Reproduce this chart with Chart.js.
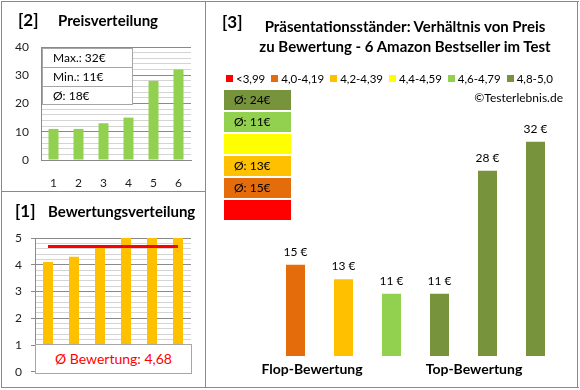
<!DOCTYPE html>
<html>
<head>
<meta charset="utf-8">
<script src="https://cdn.jsdelivr.net/npm/chart.js@4.4.1/dist/chart.umd.min.js"></script>
<style>
  body { margin: 0; width: 580px; height: 390px; position: relative; overflow: hidden; background: #fff;
         font-family: Lato, "Open Sans", sans-serif; color: #000; }
  .ln { position: absolute; background: #8a8a8a; }
  .t { position: absolute; white-space: nowrap; }
  .no { font-weight: bold; font-size: 17px; height: 20px; line-height: 20px; }
  .head { font-weight: bold; font-size: 15px; height: 20px; line-height: 20px; }
  .sub { font-weight: bold; font-size: 14px; height: 20px; line-height: 20px; }
  canvas { position: absolute; }
  .box { position: absolute; background: #fff; border: 1px solid #a6a6a6; box-sizing: border-box; }
  .row { height: 18px; line-height: 18px; font-size: 12px; padding-left: 10px; border-bottom: 1px solid #a6a6a6; }
  .row:last-child { border-bottom: none; }
  #legend { position: absolute; left: 226px; top: 70px; height: 16px; display: flex; align-items: center; font-size: 11.5px; }
  #legend span.sq { display: inline-block; width: 7px; height: 7px; margin-right: 3px; }
  #legend span.it { display: flex; align-items: center; margin-right: 6px; }
  #blocks { position: absolute; left: 224px; top: 90px; width: 67px; }
  #blocks div { height: 20px; line-height: 20px; margin-bottom: 2px; font-size: 12px; padding-left: 10px; }
</style>
</head>
<body>
<!-- frames -->
<div class="ln" style="left:1px;top:1px;width:578px;height:1px"></div>
<div class="ln" style="left:1px;top:387px;width:578px;height:1px"></div>
<div class="ln" style="left:1px;top:1px;width:1px;height:387px"></div>
<div class="ln" style="left:577px;top:1px;width:1px;height:387px"></div>
<div class="ln" style="left:205px;top:1px;width:1px;height:387px"></div>
<div class="ln" style="left:1px;top:191px;width:205px;height:1px"></div>

<canvas id="priceChart" width="203" height="189" style="left:2px;top:2px"></canvas>
<canvas id="ratingChart" width="203" height="195" style="left:2px;top:193px"></canvas>
<canvas id="compareChart" width="371" height="385" style="left:206px;top:2px"></canvas>

<div class="t no" style="left:18px;top:10px">[2]</div>
<div class="t head" style="left:58px;top:10px">Preisverteilung</div>
<div class="box" id="priceBox" style="left:42px;top:48px;width:91px;height:57px"></div>

<div class="t no" style="left:15px;top:201px">[1]</div>
<div class="t head" style="left:48px;top:201px">Bewertungsverteilung</div>
<div class="box" id="ratingBox" style="left:35px;top:344px;width:157px;height:30px;text-align:center;line-height:28px;color:#ff0000;font-size:14px"></div>

<div class="t no" style="left:222px;top:12px">[3]</div>
<div class="t head" style="left:205px;top:16px;width:400px;text-align:center">Präsentationsständer: Verhältnis von Preis<br>zu Bewertung - 6 Amazon Bestseller im Test</div>
<div id="legend"></div>
<div class="t" style="right:17px;top:90px;font-size:12px;line-height:16px">©Testerlebnis.de</div>
<div id="blocks"></div>
<div class="t sub" style="left:212px;top:359px;width:200px;text-align:center">Flop-Bewertung</div>
<div class="t sub" style="left:374px;top:359px;width:200px;text-align:center">Top-Bewertung</div>

<script>
const productNos = ['1', '2', '3', '4', '5', '6'];
const priceSorted = [11, 11, 13, 15, 28, 32];
const ratingSorted = [4.1, 4.3, 4.7, 5.0, 5.0, 5.0];

// right chart, ordered from flop to top rating
const barPrices = [15, 13, 11, 11, 28, 32];
const barRatings = [4.1, 4.3, 4.7, 5.0, 5.0, 5.0];

const bandLabels = ['<3,99', '4,0-4,19', '4,2-4,39', '4,4-4,59', '4,6-4,79', '4,8-5,0'];
const bandLimits = [4.0, 4.2, 4.4, 4.6, 4.8];
const bandColors = ['#ff0000', '#e46c0a', '#ffc000', '#ffff00', '#92d050', '#77933c'];

const FONT = 'Lato, "Open Sans", sans-serif';
const TICK = '#1e1e1e';

const bandOf = (r) => {
  let i = 0;
  while (i < bandLimits.length && r >= bandLimits[i] - 1e-9) i++;
  return i;
};
const avg = (arr) => arr.reduce((a, b) => a + b, 0) / arr.length;

// boxes and legend
const priceAvg = avg(priceSorted);
document.getElementById('priceBox').innerHTML =
  `<div class="row">Max.: ${Math.max(...priceSorted)}€</div>` +
  `<div class="row">Min.: ${Math.min(...priceSorted)}€</div>` +
  `<div class="row">Ø: ${Math.round(priceAvg)}€</div>`;

const ratingAvg = avg(ratingSorted);
document.getElementById('ratingBox').textContent =
  'Ø Bewertung: ' + ratingAvg.toFixed(2).replace('.', ',');

document.getElementById('legend').innerHTML = bandLabels.map((l, i) =>
  `<span class="it"><span class="sq" style="background:${bandColors[i]}"></span>${l}</span>`).join('');

const blocks = document.getElementById('blocks');
for (let b = bandLabels.length - 1; b >= 0; b--) {
  const inBand = barPrices.filter((p, i) => bandOf(barRatings[i]) === b);
  const d = document.createElement('div');
  d.style.background = bandColors[b];
  d.textContent = inBand.length ? `Ø: ${Math.round(avg(inBand))}€` : '';
  blocks.appendChild(d);
}

const isWhole = (v, step) => Math.abs(v / step - Math.round(v / step)) < 1e-6;

// [2] Preisverteilung
new Chart(document.getElementById('priceChart'), {
  type: 'bar',
  data: {
    labels: productNos,
    datasets: [{
      data: priceSorted,
      backgroundColor: '#92d050',
      barPercentage: 0.4,
      categoryPercentage: 1
    }]
  },
  options: {
    responsive: false,
    animation: false,
    devicePixelRatio: 1,
    layout: { padding: { left: 0, right: 14, top: 45, bottom: 0 } },
    plugins: { legend: { display: false }, tooltip: { enabled: false } },
    scales: {
      x: {
        grid: { display: false },
        border: { color: '#8a8a8a' },
        ticks: { color: TICK, font: { family: FONT, size: 12 }, padding: 8 },
        afterFit: (s) => { s.height = 31; }
      },
      y: {
        min: 0,
        max: 40,
        grid: {
          drawTicks: false,
          color: (c) => isWhole(c.tick.value, 10) ? '#8a8a8a' : '#d4d4d4'
        },
        border: { color: '#8a8a8a' },
        ticks: {
          stepSize: 2,
          autoSkip: false,
          padding: 12,
          color: TICK,
          font: { family: FONT, size: 12 },
          callback: (v) => isWhole(v, 10) ? v : ''
        },
        afterFit: (s) => { s.width = 39; }
      }
    }
  }
});

// [1] Bewertungsverteilung
new Chart(document.getElementById('ratingChart'), {
  data: {
    labels: productNos,
    datasets: [{
      type: 'line',
      data: ratingSorted.map(() => ratingAvg),
      borderColor: '#ff0000',
      borderWidth: 3,
      pointRadius: 0
    }, {
      type: 'bar',
      data: ratingSorted,
      backgroundColor: '#ffc000',
      barPercentage: 0.385,
      categoryPercentage: 1
    }]
  },
  options: {
    responsive: false,
    animation: false,
    devicePixelRatio: 1,
    layout: { padding: { left: 0, right: 14, top: 45, bottom: 15 } },
    plugins: { legend: { display: false }, tooltip: { enabled: false } },
    scales: {
      x: { display: false },
      y: {
        min: 0,
        max: 5,
        grid: {
          tickLength: 4,
          color: (c) => isWhole(c.tick.value, 1) ? '#8a8a8a' : '#d4d4d4',
          tickColor: (c) => isWhole(c.tick.value, 1) ? '#8a8a8a' : 'rgba(0,0,0,0)'
        },
        border: { color: '#8a8a8a' },
        ticks: {
          stepSize: 0.2,
          autoSkip: false,
          padding: 9,
          color: TICK,
          font: { family: FONT, size: 12 },
          callback: (v) => isWhole(v, 1) ? Math.round(v) : ''
        },
        afterFit: (s) => { s.width = 33; }
      }
    }
  }
});

// [3] Preis vs. Bewertung
const valueLabels = {
  id: 'valueLabels',
  afterDatasetsDraw(chart) {
    const { ctx } = chart;
    ctx.save();
    ctx.font = '12px ' + FONT;
    ctx.fillStyle = '#000';
    ctx.textAlign = 'center';
    ctx.textBaseline = 'middle';
    chart.getDatasetMeta(0).data.forEach((bar, i) => {
      ctx.fillText(barPrices[i] + ' €', bar.x, bar.y - 13);
    });
    ctx.restore();
  }
};

new Chart(document.getElementById('compareChart'), {
  type: 'bar',
  data: {
    labels: productNos,
    datasets: [{
      data: barPrices,
      backgroundColor: barRatings.map((r) => bandColors[bandOf(r)]),
      barPercentage: 0.396,
      categoryPercentage: 1
    }]
  },
  options: {
    responsive: false,
    animation: false,
    devicePixelRatio: 1,
    layout: { padding: { left: 65.5, right: 17.5, top: 82, bottom: 31 } },
    plugins: { legend: { display: false }, tooltip: { enabled: false } },
    scales: {
      x: { display: false },
      y: { display: false, min: 2.4, max: 40 }
    }
  },
  plugins: [valueLabels]
});
</script>
</body>
</html>
